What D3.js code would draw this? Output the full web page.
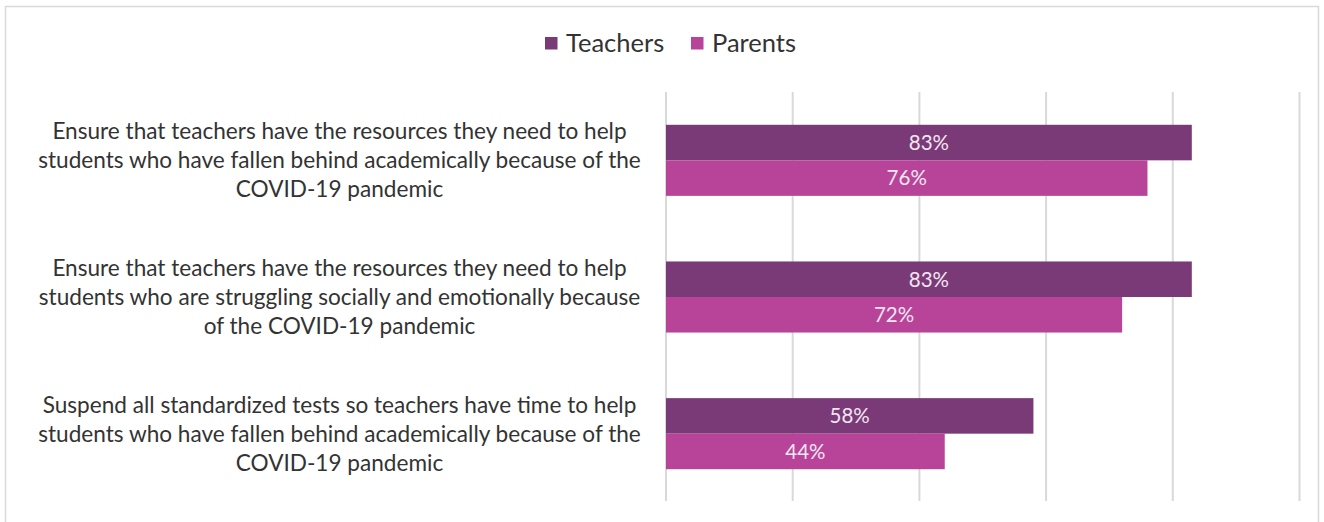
<!DOCTYPE html>
<html><head><meta charset="utf-8">
<script src="https://cdn.jsdelivr.net/npm/d3@7"></script>
<style>body{margin:0;background:#fff}svg{display:block}</style>
</head><body>
<svg id="c" width="1324" height="522"></svg>
<script>
const categories = [
  ["Ensure that teachers have the resources they need to help","students who have fallen behind academically because of the","COVID-19 pandemic"],
  ["Ensure that teachers have the resources they need to help","students who are struggling socially and emotionally because","of the COVID-19 pandemic"],
  ["Suspend all standardized tests so teachers have time to help","students who have fallen behind academically because of the","COVID-19 pandemic"]
];
const seriesNames = ["Teachers","Parents"];
const teachers = [83, 83, 58];
const parents = [76, 72, 44];
const xTicks = [0, 20, 40, 60, 80, 100];
const colors = ["#7A3A78", "#B8449A"];

const svg = d3.select("#c");
const font = "Lato, 'Open Sans', sans-serif";

svg.append("rect").attr("x",5.5).attr("y",6.5).attr("width",1313).attr("height",530)
  .attr("fill","#fff").attr("stroke","#d9d9d9").attr("stroke-width",1.5);

const x = d3.scaleLinear().domain([0,100]).range([666, 1299.5]);
const y = d3.scaleBand().domain(d3.range(categories.length)).range([92, 502]).paddingInner(0.48).paddingOuter(0.24);
const ys = d3.scaleBand().domain(seriesNames).range([0, y.bandwidth()]);

// gridlines
svg.append("g").selectAll("line").data(xTicks).join("line")
  .attr("x1", d => x(d)).attr("x2", d => x(d))
  .attr("y1", 92).attr("y2", 501)
  .attr("stroke", "#d9d9d9").attr("stroke-width", 2);

const data = [];
categories.forEach((c,i) => {
  data.push({i, s:"Teachers", v:teachers[i]});
  data.push({i, s:"Parents", v:parents[i]});
});

svg.append("g").selectAll("rect").data(data).join("rect")
  .attr("x", x(0)).attr("y", d => y(d.i) + ys(d.s))
  .attr("width", d => x(d.v) - x(0)).attr("height", ys.bandwidth())
  .attr("fill", d => colors[seriesNames.indexOf(d.s)]);

svg.append("g").selectAll("text").data(data).join("text")
  .attr("x", d => (x(0) + x(d.v)) / 2)
  .attr("y", d => y(d.i) + ys(d.s) + ys.bandwidth()/2)
  .attr("dy", "0.36em").attr("text-anchor","middle")
  .attr("fill", "#f3e6f0").attr("font-family", font).attr("font-size", 20.5)
  .text(d => d.v + "%");

// category labels
const lab = svg.append("g").selectAll("text").data(categories).join("text")
  .attr("text-anchor","middle").attr("fill","#333").attr("font-family", font).attr("font-size", 22.6);
lab.each(function(lines, i){
  const cy = y(i) + y.bandwidth()/2;
  d3.select(this).selectAll("tspan").data(lines).join("tspan")
    .attr("x", 339.5).attr("y", (d,k) => cy + (k-1)*29).attr("dy","0.36em").text(d => d);
});

// legend
const leg = svg.append("g");
const legX = [545, 691];
seriesNames.forEach((s,k) => {
  leg.append("rect").attr("x", legX[k]).attr("y", 37).attr("width", 12.5).attr("height", 12.5).attr("fill", colors[k]);
  leg.append("text").attr("x", legX[k] + 21).attr("y", 43).attr("dy","0.36em")
    .attr("fill","#333").attr("font-family", font).attr("font-size", 25.5).text(s);
});
</script>
</body></html>
